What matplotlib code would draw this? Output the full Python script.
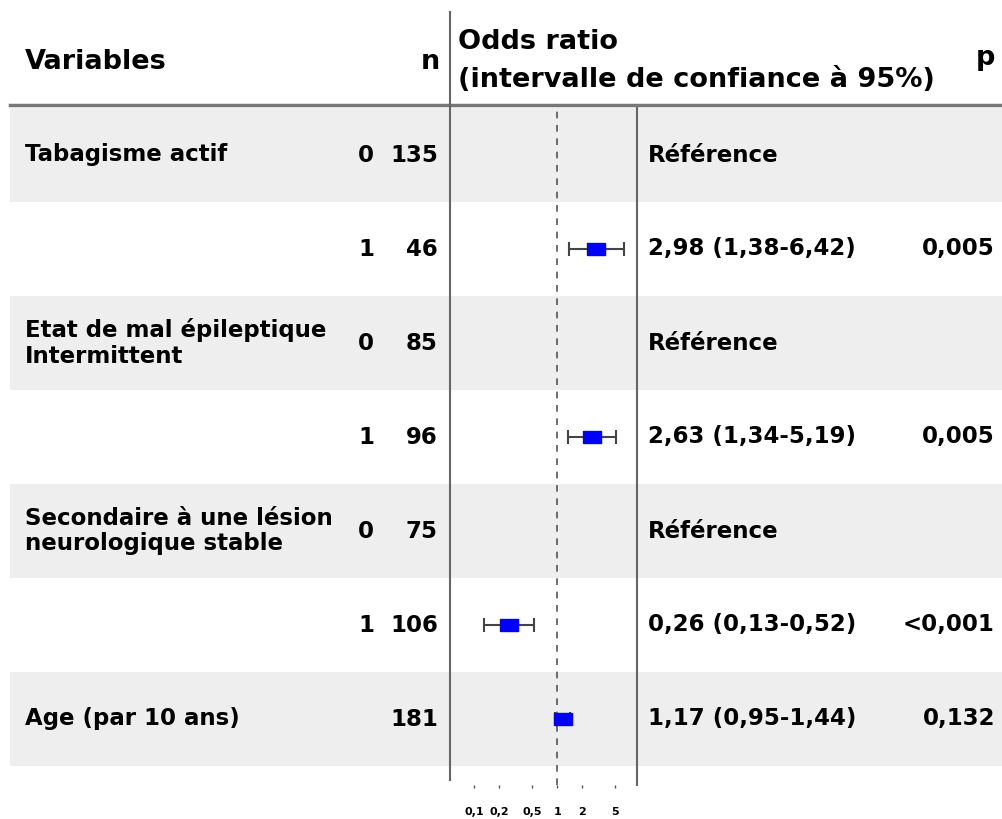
import numpy as np
import matplotlib
matplotlib.use("Agg")
import matplotlib.pyplot as plt

# table content
labels = ["Tabagisme actif", "", "Etat de mal épileptique\nIntermittent", "",
          "Secondaire à une lésion\nneurologique stable", "", "Age (par 10 ans)"]
levels = ["0", "1", "0", "1", "0", "1", ""]
n_obs = ["135", "46", "85", "96", "75", "106", "181"]
or_text = ["Référence", "2,98 (1,38-6,42)", "Référence", "2,63 (1,34-5,19)",
           "Référence", "0,26 (0,13-0,52)", "1,17 (0,95-1,44)"]
p_text = ["", "0,005", "", "0,005", "", "<0,001", "0,132"]

# odds ratios (nan = reference level)
odds = [np.nan, 2.98, np.nan, 2.63, np.nan, 0.26, 1.17]
ci_low = [np.nan, 1.38, np.nan, 1.34, np.nan, 0.13, 0.95]
ci_high = [np.nan, 6.42, np.nan, 5.19, np.nan, 0.52, 1.44]
xticks = [0.1, 0.2, 0.5, 1, 2, 5]
xticklabels = ["0,1", "0,2", "0,5", "1", "2", "5"]

W, H = 1002, 819
top, row_h = 108, 94
nrows = len(labels)
fx0, fx1, fbot = 450, 637, 785

fig = plt.figure(figsize=(W / 100, H / 100), dpi=100)
tab = fig.add_axes([0, 0, 1, 1])
tab.set_xlim(0, W)
tab.set_ylim(H, 0)
tab.axis("off")

bold = dict(fontweight="bold", family="DejaVu Sans")
hsize, rsize = 19.5, 16.5

# row backgrounds
for i in range(nrows):
    if i % 2 == 0:
        tab.add_patch(plt.Rectangle((10, top + i * row_h), W - 10, row_h,
                                    color="#eeeeee", lw=0, zorder=0))
tab.plot([10, W], [105, 105], color="#777777", lw=2.5, zorder=2)
tab.plot([fx0, fx0], [12, 780], color="#666666", lw=1.5, zorder=2)

# header
tab.text(25, 62, "Variables", fontsize=hsize, va="center", **bold)
tab.text(440, 62, "n", fontsize=hsize, va="center", ha="right", **bold)
tab.text(458, 42, "Odds ratio", fontsize=hsize, va="center", **bold)
tab.text(458, 80, "(intervalle de confiance à 95%)", fontsize=hsize, va="center", **bold)
tab.text(995, 58, "p", fontsize=hsize, va="center", ha="right", **bold)

for i in range(nrows):
    yc = top + (i + 0.5) * row_h
    tab.text(25, yc, labels[i], fontsize=rsize, va="center", linespacing=1.15, **bold)
    tab.text(366, yc, levels[i], fontsize=rsize, va="center", ha="center", **bold)
    tab.text(438, yc, n_obs[i], fontsize=rsize, va="center", ha="right", **bold)
    tab.text(648, yc, or_text[i], fontsize=rsize, va="center", **bold)
    tab.text(995, yc, p_text[i], fontsize=rsize, va="center", ha="right", **bold)

# forest plot
ax = fig.add_axes([fx0 / W, (H - fbot) / H, (fx1 - fx0) / W, (fbot - top) / H])
ax.patch.set_alpha(0)
ax.set_xscale("log")
ax.set_xlim(0.051, 9.2)
ax.set_ylim((fbot - top) / row_h, 0)
ypos = np.arange(nrows) + 0.5
odds_a = np.array(odds)
err = [odds_a - np.array(ci_low), np.array(ci_high) - odds_a]
ax.errorbar(odds_a, ypos, xerr=err, fmt="none", ecolor="#444444",
            elinewidth=1.5, capsize=5, capthick=1.5, zorder=3)
rect = [(-1, -0.65), (1, -0.65), (1, 0.65), (-1, 0.65), (-1, -0.65)]
ax.plot(odds_a, ypos, linestyle="none", marker=rect, markersize=13,
        color="#0000ff", zorder=4)
ax.axvline(1, color="#555555", lw=1.2, ls=(0, (4, 4)), zorder=1)
for s in ["top", "bottom", "left"]:
    ax.spines[s].set_visible(False)
ax.spines["right"].set_color("#666666")
ax.spines["right"].set_linewidth(1.5)
ax.set_yticks([])
ax.set_xticks(xticks)
ax.set_xticklabels(xticklabels, fontsize=8, fontweight="bold")
ax.xaxis.set_minor_locator(matplotlib.ticker.NullLocator())
ax.tick_params(axis="x", length=2, width=1, color="#555555", pad=14)

fig.savefig("out.png", dpi=100)
